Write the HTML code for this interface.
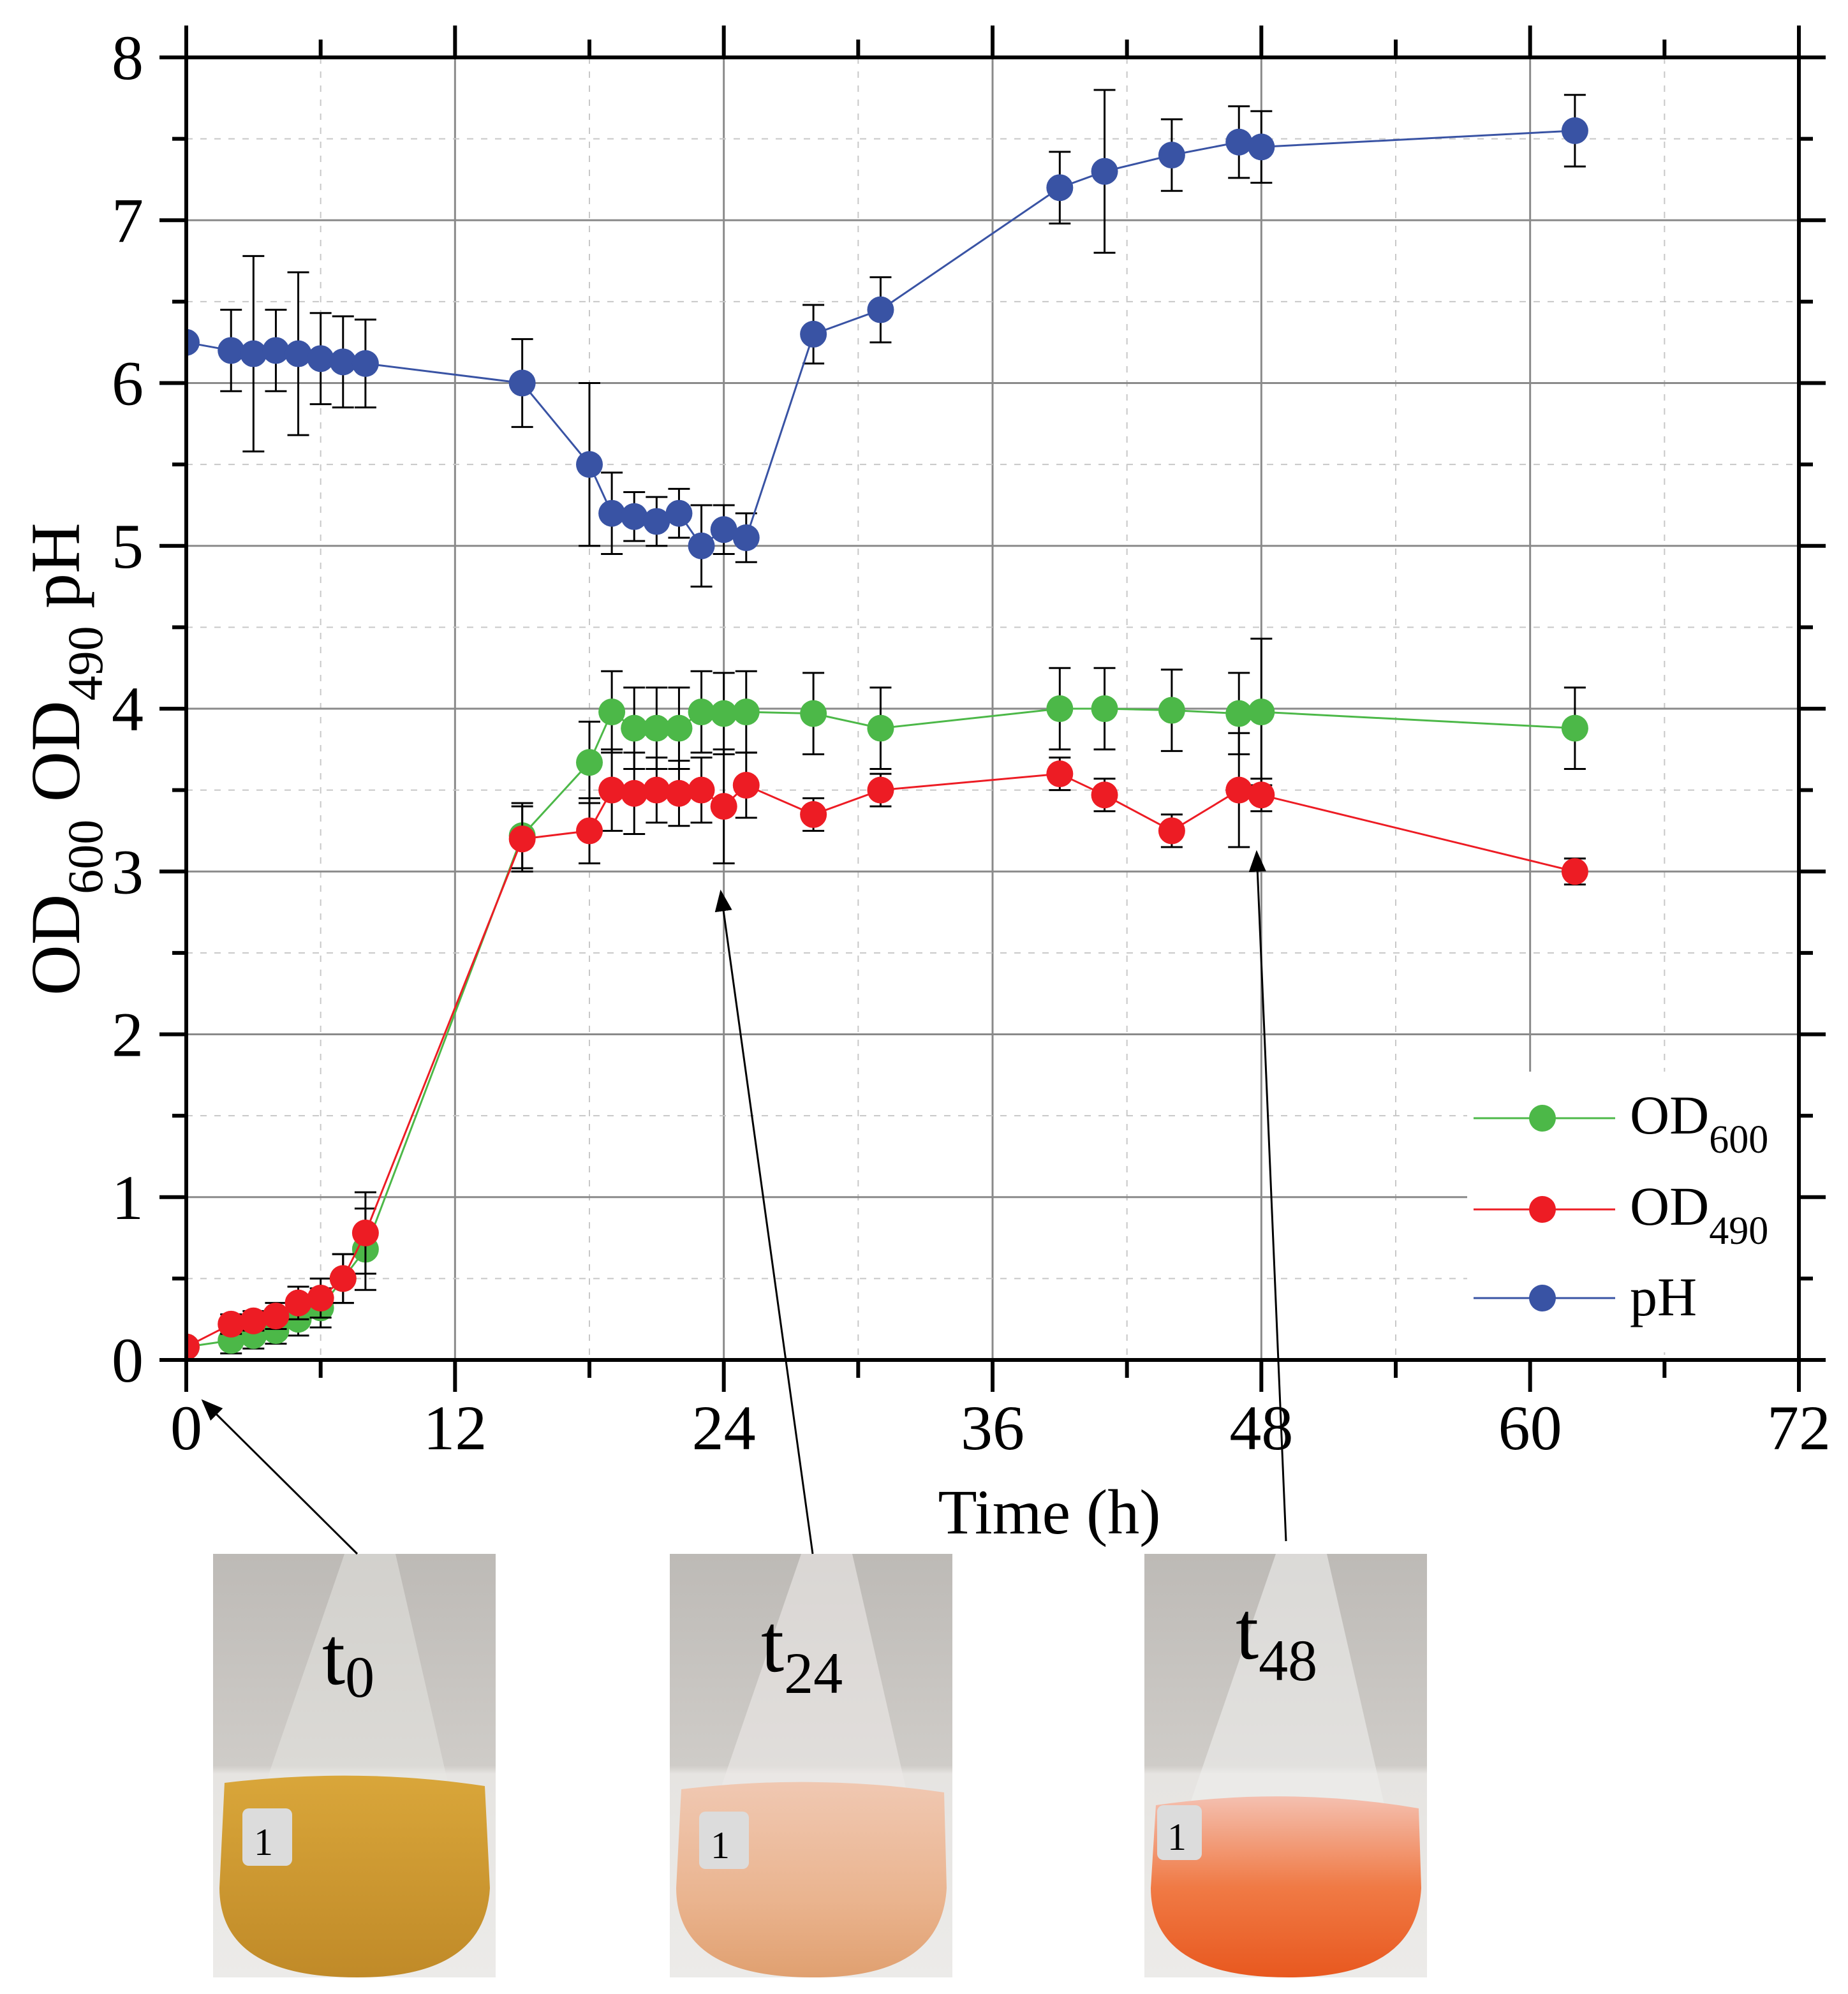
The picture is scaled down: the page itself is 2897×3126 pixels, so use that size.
<!DOCTYPE html>
<html><head><meta charset="utf-8"><style>
html,body{margin:0;padding:0;background:#fff}
svg{display:block}
text{font-family:"Liberation Serif",serif;fill:#000}
</style></head><body>
<svg id="chart" width="2897" height="3126" viewBox="0 0 2897 3126" xmlns="http://www.w3.org/2000/svg">
<defs>
<linearGradient id="bg" x1="0" y1="0" x2="0" y2="1"><stop offset="0" stop-color="#bdbab6"/><stop offset="0.5" stop-color="#cfccc8"/><stop offset="0.52" stop-color="#e6e4e1"/><stop offset="1" stop-color="#ecebe9"/></linearGradient>
<linearGradient id="liq0" x1="0" y1="0" x2="0" y2="1"><stop offset="0" stop-color="#d9a63a"/><stop offset="1" stop-color="#c08a28"/></linearGradient>
<linearGradient id="liq24" x1="0" y1="0" x2="0" y2="1"><stop offset="0" stop-color="#f0c8b2"/><stop offset="0.6" stop-color="#eab48f"/><stop offset="1" stop-color="#e0a070"/></linearGradient>
<linearGradient id="liq48" x1="0" y1="0" x2="0" y2="1"><stop offset="0" stop-color="#f4c0b0"/><stop offset="0.5" stop-color="#f07a45"/><stop offset="1" stop-color="#e8581f"/></linearGradient>
<marker id="ah2" viewBox="0 0 10 10" refX="9" refY="5" markerWidth="34" markerHeight="34" markerUnits="userSpaceOnUse" orient="auto"><path d="M0,1 L10,5 L0,9 z" fill="#000"/></marker>
</defs>
<g id="grid"></g>
<rect x="2300" y="1680" width="520" height="440" fill="#fff"/>
<g id="series"></g>
<g id="axes"></g>
<g>
 <line x1="2310" y1="1753" x2="2532" y2="1753" stroke="#4cb848" stroke-width="3"/>
 <circle cx="2418" cy="1753" r="21" fill="#4cb848"/>
 <text x="2555" y="1777" font-size="86">OD<tspan font-size="62" dy="30">600</tspan></text>
 <line x1="2310" y1="1896" x2="2532" y2="1896" stroke="#ed1c24" stroke-width="3"/>
 <circle cx="2418" cy="1896" r="21" fill="#ed1c24"/>
 <text x="2555" y="1920" font-size="86">OD<tspan font-size="62" dy="30">490</tspan></text>
 <line x1="2310" y1="2035" x2="2532" y2="2035" stroke="#3953a4" stroke-width="3"/>
 <circle cx="2418" cy="2035" r="21" fill="#3953a4"/>
 <text x="2555" y="2062" font-size="86">pH</text>
</g>
<text x="1645" y="2404" font-size="100" text-anchor="middle">Time (h)</text>
<text transform="translate(124,1190) rotate(-90)" font-size="110" text-anchor="middle">OD<tspan font-size="78" dy="36">600</tspan><tspan dy="-36"> OD</tspan><tspan font-size="78" dy="36">490</tspan><tspan dy="-36"> pH</tspan></text>
<g>
 <g>
  <rect x="334" y="2436" width="443" height="664" fill="url(#bg)"/>
  <path d="M540,2436 L620,2436 L740,2960 Q760,3100 560,3100 Q345,3100 360,2960 Z" fill="#e8e7e4" opacity="0.5"/>
  <path d="M352,2795 Q560,2770 760,2800 L768,2960 Q760,3100 560,3100 Q345,3100 344,2960 Z" fill="url(#liq0)"/>
  <rect x="380" y="2835" width="78" height="90" rx="10" fill="#dcdcdc"/>
  <text x="398" y="2908" font-size="60" font-family="Liberation Sans,sans-serif">1</text>
  <text x="505" y="2640" font-size="130">t<tspan font-size="92" dy="20">0</tspan></text>
 </g>
 <g>
  <rect x="1050" y="2436" width="443" height="664" fill="url(#bg)"/>
  <path d="M1256,2436 L1336,2436 L1456,2960 Q1476,3100 1276,3100 Q1061,3100 1076,2960 Z" fill="#eceae7" opacity="0.6"/>
  <path d="M1068,2805 Q1276,2780 1480,2810 L1484,2960 Q1476,3100 1276,3100 Q1061,3100 1060,2960 Z" fill="url(#liq24)"/>
  <rect x="1096" y="2840" width="78" height="90" rx="10" fill="#dcdcdc"/>
  <text x="1114" y="2913" font-size="60" font-family="Liberation Sans,sans-serif">1</text>
  <text x="1193" y="2620" font-size="130">t<tspan font-size="92" dy="34">24</tspan></text>
 </g>
 <g>
  <rect x="1794" y="2436" width="443" height="664" fill="url(#bg)"/>
  <path d="M2000,2436 L2080,2436 L2200,2960 Q2220,3100 2020,3100 Q1805,3100 1820,2960 Z" fill="#efeeec" opacity="0.6"/>
  <path d="M1812,2830 Q2020,2800 2224,2835 L2228,2960 Q2220,3100 2020,3100 Q1805,3100 1804,2960 Z" fill="url(#liq48)"/>
  <rect x="1814" y="2830" width="70" height="86" rx="10" fill="#dcdcdc"/>
  <text x="1830" y="2900" font-size="60" font-family="Liberation Sans,sans-serif">1</text>
  <text x="1937" y="2600" font-size="130">t<tspan font-size="92" dy="34">48</tspan></text>
 </g>
</g>
<g>
 <line x1="560" y1="2436" x2="318" y2="2196" stroke="#000" stroke-width="3" marker-end="url(#ah2)"/>
 <line x1="1274" y1="2436" x2="1130" y2="1398" stroke="#000" stroke-width="3" marker-end="url(#ah2)"/>
 <line x1="2016" y1="2416" x2="1970" y2="1336" stroke="#000" stroke-width="3" marker-end="url(#ah2)"/>
</g>
</svg>
<script>
const times = [0,2,3,4,5,6,7,8,15,18,19,20,21,22,23,24,25,28,31,39,41,44,47,48,62];
const ph = [6.25,6.2,6.18,6.2,6.18,6.15,6.13,6.12,6.0,5.5,5.2,5.18,5.15,5.2,5.0,5.1,5.05,6.3,6.45,7.2,7.3,7.4,7.48,7.45,7.55];
const phErr = [0.02,0.25,0.6,0.25,0.5,0.28,0.28,0.27,0.27,0.5,0.25,0.15,0.15,0.15,0.25,0.15,0.15,0.18,0.2,0.22,0.5,0.22,0.22,0.22,0.22];
const od600 = [0.08,0.12,0.15,0.18,0.25,0.32,0.5,0.68,3.22,3.67,3.98,3.88,3.88,3.88,3.98,3.97,3.98,3.97,3.88,4.0,4.0,3.99,3.97,3.98,3.88];
const od600Err = [0.02,0.08,0.08,0.08,0.1,0.12,0.15,0.25,0.2,0.25,0.25,0.25,0.25,0.25,0.25,0.25,0.25,0.25,0.25,0.25,0.25,0.25,0.25,0.45,0.25];
const od490 = [0.08,0.22,0.24,0.27,0.35,0.38,0.5,0.78,3.2,3.25,3.5,3.48,3.5,3.48,3.5,3.4,3.53,3.35,3.5,3.6,3.47,3.25,3.5,3.47,3.0];
const od490Err = [0.02,0.06,0.06,0.08,0.1,0.12,0.15,0.25,0.2,0.2,0.25,0.25,0.2,0.2,0.2,0.35,0.2,0.1,0.1,0.1,0.1,0.1,0.35,0.1,0.08];
const xTicks = [0,12,24,36,48,60,72];
const yTicks = [0,1,2,3,4,5,6,7,8];

const X0=292, X1=2820, Y0=2132, Y1=90;
const xs = h => X0 + h*(X1-X0)/72;
const ys = v => Y0 - v*(Y0-Y1)/8;
const NS='http://www.w3.org/2000/svg';
function mk(tag, attrs, parent){const e=document.createElementNS(NS,tag);for(const k in attrs)e.setAttribute(k,attrs[k]);parent.appendChild(e);return e;}
const grid=document.getElementById('grid'), ser=document.getElementById('series'), ax=document.getElementById('axes');

for(let h=6;h<72;h+=6){
  const major=h%12===0;
  const yEnd = (h===60)?1680:Y0;
  const l=mk('line',{x1:xs(h),x2:xs(h),y1:Y1,y2:yEnd,stroke:major?'#8a8a8a':'#c8c8c8','stroke-width':major?3:2,'stroke-dasharray':major?'none':'10,12'},grid);
  
  
}
for(let v=0.5;v<8;v+=0.5){
  const major=Number.isInteger(v);
  const l=mk('line',{x1:X0,x2:X1,y1:ys(v),y2:ys(v),stroke:major?'#8a8a8a':'#c8c8c8','stroke-width':major?3:2,'stroke-dasharray':major?'none':'10,12'},grid);
  
  
}

function drawSeries(vals, errs, color, name){
  const g=mk('g',{},ser);
  
  
  const eg=mk('g',{stroke:'#000','stroke-width':3,fill:'none'},g);
  vals.forEach((v,i)=>{
    const x=xs(times[i]), yt=ys(v+errs[i]), yb=ys(v-errs[i]);
    const p=mk('path',{d:`M${x},${yt}V${yb}M${x-17},${yt}H${x+17}M${x-17},${yb}H${x+17}`},eg);
    
    
  });
  const line=mk('polyline',{points:vals.map((v,i)=>xs(times[i])+','+ys(v)).join(' '),fill:'none',stroke:color,'stroke-width':3},g);
  
  
  vals.forEach((v,i)=>{
    const c=mk('circle',{cx:xs(times[i]),cy:ys(v),r:21,fill:color},g);
    
    
  });
}
drawSeries(od600, od600Err, '#4cb848', 'od600');
drawSeries(od490, od490Err, '#ed1c24', 'od490');
drawSeries(ph, phErr, '#3953a4', 'ph');

const cover=mk('rect',{x:0,y:0,width:X0-3,height:2200,fill:'#fff'},ax);



const frame=mk('rect',{x:X0,y:Y1,width:X1-X0,height:Y0-Y1,fill:'none',stroke:'#000','stroke-width':6},ax);



for(let h=0;h<=72;h+=6){
  const major=h%12===0, len=major?50:28;
  const a=mk('path',{d:`M${xs(h)},${Y0}v${len}M${xs(h)},${Y1}v${-len}`,stroke:'#000','stroke-width':6},ax);
  
  
}
for(let v=0;v<=8;v+=0.5){
  const major=Number.isInteger(v), len=major?42:22;
  const a=mk('path',{d:`M${X0},${ys(v)}h${-len}M${X1},${ys(v)}h${len}`,stroke:'#000','stroke-width':6},ax);
  
  
}
xTicks.forEach(h=>{
  const t=mk('text',{x:xs(h),y:2272,'font-size':100,'text-anchor':'middle'},ax);
  t.textContent=h;
  
  
});
yTicks.forEach(v=>{
  const t=mk('text',{x:200,y:ys(v)+34,'font-size':100,'text-anchor':'middle'},ax);
  t.textContent=v;
  
  
});
</script>
</body></html>
